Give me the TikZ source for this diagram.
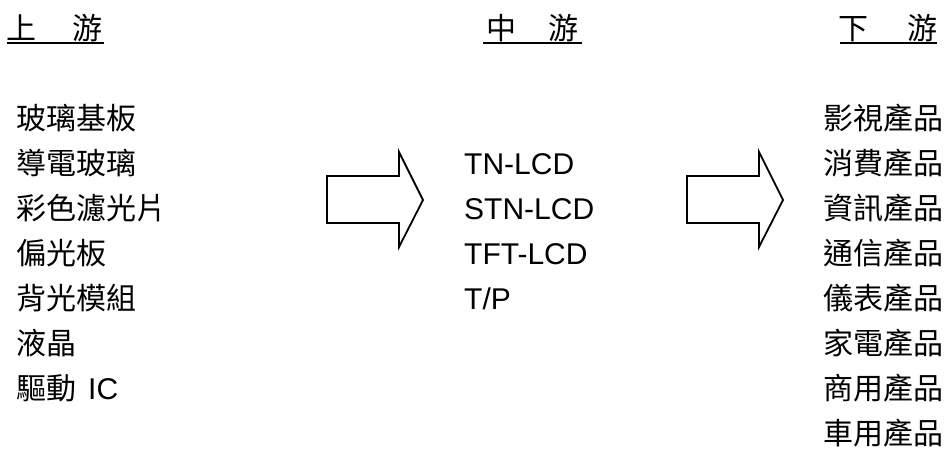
\documentclass[tikz,border=0pt]{standalone}
\usepackage{fontspec}
\setmainfont{Liberation Sans}
\newfontfamily\cjk{Noto Sans CJK TC}
\begin{document}
\begin{tikzpicture}[x=1pt,y=-1pt,
  cjktext/.style={anchor=base west,inner sep=0pt,font=\cjk\fontsize{30}{30}\selectfont},
  lattext/.style={anchor=base west,inner sep=0pt,font=\fontsize{30}{30}\selectfont},
  uline/.style={line width=2.5pt},
  blockarrow/.style={line width=1.8pt,line join=miter}]
\useasboundingbox (0,0) rectangle (952,448);
% headers
\node[cjktext] (h1a) at (6,39) {上};
\node[cjktext] (h1b) at (72,39) {游};
\draw[uline] (7,43) -- (104,43);
\node[cjktext] (h2a) at (486,39) {中};
\node[cjktext] (h2b) at (548,39) {游};
\draw[uline] (483,43) -- (582,43);
\node[cjktext] (h3a) at (838,39) {下};
\node[cjktext] (h3b) at (907,39) {游};
\draw[uline] (840,43) -- (937,43);
% left list
\node[cjktext] (l1) at (16,129) {玻璃基板};
\node[cjktext] (l2) at (16,174) {導電玻璃};
\node[cjktext] (l3) at (16,219) {彩色濾光片};
\node[cjktext] (l4) at (16,264) {偏光板};
\node[cjktext] (l5) at (16,309) {背光模組};
\node[cjktext] (l6) at (16,354) {液晶};
\node[cjktext] (l7) at (16,399) {驅動\hspace{12pt}{\fontspec{Liberation Sans}IC}};
% middle list
\node[lattext] (m1) at (464,174) {TN-LCD};
\node[lattext] (m2) at (464,219) {STN-LCD};
\node[lattext] (m3) at (464,264) {TFT-LCD};
\node[lattext] (m4) at (464,309) {T/P};
% right list
\node[cjktext] (r1) at (823,129) {影視產品};
\node[cjktext] (r2) at (823,174) {消費產品};
\node[cjktext] (r3) at (823,219) {資訊產品};
\node[cjktext] (r4) at (823,264) {通信產品};
\node[cjktext] (r5) at (823,309) {儀表產品};
\node[cjktext] (r6) at (823,354) {家電產品};
\node[cjktext] (r7) at (823,399) {商用產品};
\node[cjktext] (r8) at (823,444) {車用產品};
% block arrows
\foreach \dx in {0,360} {
  \draw[blockarrow,xshift=\dx] (327,176) -- (399,176) -- (399,152) -- (423,200)
     -- (399,247) -- (399,223) -- (327,223) -- cycle;
}
\end{tikzpicture}
\end{document}
